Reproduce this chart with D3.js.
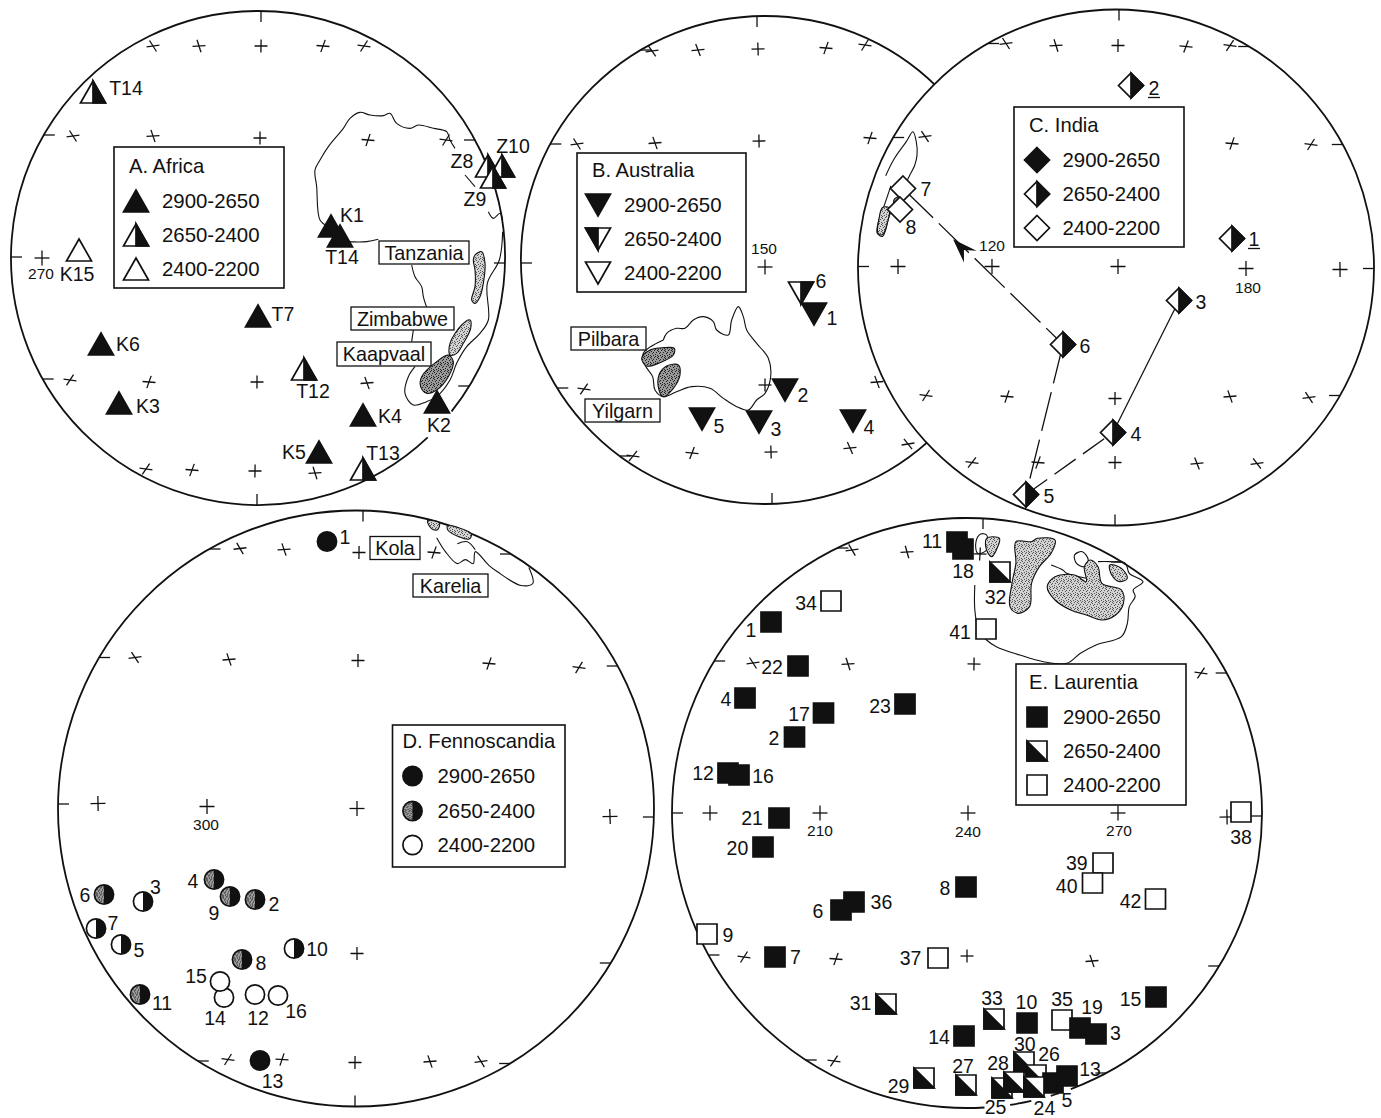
<!DOCTYPE html>
<html>
<head>
<meta charset="utf-8">
<script src="https://cdn.jsdelivr.net/npm/d3@7"></script>
<style>
  html, body { margin: 0; padding: 0; background: #fff; }
  svg { display: block; }
  text { font-family: "Liberation Sans", Arial, sans-serif; fill: #111; }
</style>
</head>
<body>
<div id="chart"></div>
<script>
// age classes shown in every legend
var ageLabels = ["2900-2650", "2650-2400", "2400-2200"];

// A. Africa
var africaIds = ["T14", "K15", "K1", "T14", "T7", "K6", "T12", "K3", "K4", "K2", "K5", "T13", "Z8", "Z10", "Z9"];
var africaX = [-165, -179, 73, 82, 0, -157, 46, -139, 105, 179, 61, 105, 230, 244, 235];
var africaY = [166, 8, 32, 22, -58, -86, -111, -145, -157, -144, -194, -211, 92, 92, 81];
var africaAge = [1, 2, 0, 0, 0, 0, 1, 0, 0, 0, 0, 1, 1, 1, 1];
var africaCrossX = [-105, -59, 3, 65, 106, -185, -105, 2, 110, 188, -216, -188, -109, -1, 109, -112, -66, -3, 57];
var africaCrossY = [212, 212, 212, 212, 212, 122, 122, 120, 118, 118, 0, -122, -124, -124, -125, -211, -212, -213, -215];

// B. Australia
var australiaIds = ["6", "1", "2", "3", "4", "5"];
var australiaX = [36, 49, 20, -6, 88, -63];
var australiaY = [-33, -54, -130, -162, -161, -159];
var australiaAge = [1, 0, 0, 0, 0, 0];
var australiaCrossX = [-113, -67, -7, 61, 100, -188, -110, -6, 105, 0, -181, 0, 112, -132, -73, 6, 85, 143];
var australiaCrossY = [209, 210, 211, 212, 215, 116, 117, 119, 122, -7, -129, -125, -122, -196, -193, -192, -188, -184];

// C. India
var indiaIds = ["1", "2", "3", "4", "5", "6", "7", "8"];
var indiaX = [116, 15, 63, -3, -90, -53, -213, -216];
var indiaY = [29, 182, -33, -165, -227, -77, 79, 58];
var indiaAge = [1, 1, 1, 1, 1, 1, 2, 2];
var indiaCrossX = [-110, -60, 2, 70, 114, -191, 116, 195, -218, -124, 2, 130, 224, -190, -109, -1, 114, 193, -144, -78, -1, 81, 141];
var indiaCrossY = [224, 222, 222, 221, 222, 131, 124, 123, 1, 1, 1, -1, -2, -128, -129, -131, -129, -130, -195, -195, -195, -196, -196];

// D. Fennoscandia
var fennoIds = ["1", "2", "3", "4", "5", "6", "7", "8", "9", "10", "11", "12", "13", "14", "15", "16"];
var fennoX = [-29, -101, -213, -142, -235, -252, -260, -114, -126, -62, -216, -101, -96, -132, -136, -78];
var fennoY = [267, -91, -93, -71, -136, -86, -120, -151, -88, -140, -186, -186, -252, -189, -173, -187];
var fennoAge = [0, 1, 1, 1, 1, 1, 1, 1, 1, 1, 1, 2, 0, 2, 2, 2];
var fennoPlainHalf = ["3", "5", "7", "10"];
var fennoCrossX = [-116, -72, 3, 78, -221, -127, 2, 133, 223, -258, -149, 1, 254, 1, -128, -74, -1, 74, 125];
var fennoCrossY = [260, 259, 256, 256, 151, 149, 148, 145, 141, 5, 2, 0, -8, -145, -251, -251, -254, -253, -253];

// E. Laurentia, listed back to front
var laurentiaIds = ["1", "2", "4", "6", "36", "7", "8", "9", "10", "11", "18", "12", "16", "14", "15", "17", "20", "21", "22", "23", "34", "35", "19", "3", "37", "38", "39", "40", "41", "42", "31", "32", "33", "27", "29", "30", "26", "25", "28", "5", "24", "13"];
var laurentiaX = [-196, -172.5, -222, -126, -113, -192, -1, -260, 60, -10, -4, -239, -228, -3, 189, -143.5, -204, -188, -169, -62, -136, 95, 113, 129, -29, 274, 136, 125.5, 19, 188.5, -81, 33, 27, -1, -43, 57, 69, 35, 47, 86, 67, 100];
var laurentiaY = [191, 76, 115, -97, -89, -144, -74, -121, -210, 271, 264, 40, 38, -223, -184, 100, -34, -5, 147, 109, 212, -207, -215, -221, -145, 1, -50, -70, 184, -86, -191, 241, -206, -272, -265, -249, -262, -275, -269, -270, -274, -263];
var laurentiaAge = [0, 0, 0, 0, 0, 0, 0, 2, 0, 0, 0, 0, 0, 0, 0, 0, 0, 0, 0, 0, 2, 2, 0, 0, 2, 2, 2, 2, 2, 2, 1, 1, 1, 1, 1, 1, 1, 1, 1, 0, 1, 0];
var laurentiaCrossX = [-115, -60, 13, -214, -119, 7, 234, -257, -147, 1, 151, 260, -223, -131, 0, 125, -133];
var laurentiaCrossY = [263, 261, 259, 150, 149, 149, 140, 0, 0, 0, 0, -4, -144, -146, -143, -148, -248];

// digitised outlines, in the units of each map
var africaCoast = [[985, 680], [960, 660], [950, 560], [945, 510], [960, 480], [985, 440], [1030, 385], [1050, 355], [1080, 337], [1110, 345], [1150, 347], [1170, 340], [1190, 370], [1230, 385], [1255, 375], [1300, 385], [1340, 395], [1350, 420], [1365, 445]];
var africaGuinea = [[1040, 725], [1100, 725], [1135, 718]];
var africaHorn = [[1465, 635], [1480, 655], [1500, 640], [1508, 660]];
var africaEast = [[1508, 695], [1498, 780], [1462, 850], [1465, 960], [1440, 1000], [1400, 1040], [1370, 1090], [1350, 1140], [1310, 1190], [1280, 1205], [1240, 1215], [1215, 1180], [1225, 1130], [1245, 1100]];
var africaInner = [[1235, 795], [1245, 830], [1265, 860], [1270, 890], [1280, 922]];
var africaInner2 = [[1240, 990], [1235, 1025]];
var africaTanzania = [[1425, 765], [1445, 755], [1455, 790], [1450, 850], [1440, 890], [1425, 910], [1415, 900], [1425, 860], [1425, 810], [1420, 780]];
var africaZimbabwe = [[1350, 1030], [1385, 975], [1410, 960], [1412, 985], [1390, 1030], [1370, 1060], [1350, 1065]];
var africaKaapvaal = [[1265, 1130], [1310, 1085], [1345, 1065], [1360, 1085], [1345, 1130], [1310, 1170], [1280, 1180], [1262, 1160]];
var z9Leader = [[1395, 525], [1425, 560]];

var australiaCoast = [[460, 1020], [470, 1000], [500, 985], [525, 985], [550, 960], [580, 950], [610, 965], [620, 990], [655, 1005], [665, 960], [685, 920], [700, 950], [710, 990], [740, 1030], [775, 1075], [782, 1130], [765, 1180], [740, 1200], [715, 1230], [680, 1220], [640, 1195], [600, 1165], [545, 1160], [500, 1175], [460, 1190], [435, 1170], [428, 1130], [405, 1095], [400, 1060], [460, 1020]];
var australiaPilbara = [[395, 1075], [420, 1050], [460, 1043], [493, 1045], [490, 1065], [450, 1088], [410, 1098]];
var australiaYilgarn = [[447, 1125], [470, 1098], [505, 1095], [510, 1125], [490, 1165], [460, 1190], [447, 1170]];

var indiaCoast = [[105, 520], [130, 470], [165, 420], [185, 390], [195, 420], [197, 460], [190, 490], [175, 520], [165, 540]];
var indiaSouth = [[120, 550], [100, 610], [85, 650], [80, 690], [95, 700], [105, 680], [115, 640], [140, 590]];
var indiaDharwar = [[95, 615], [115, 615], [110, 660], [95, 695], [82, 690], [85, 650]];
var indiaWedge = [[130, 590], [150, 580], [130, 610]];
var indiaArrow = [[303, 708], [372, 742], [335, 740], [335, 777]];

var kolaCoast = [[998, 95], [1020, 130], [1050, 160], [1070, 150], [1090, 160], [1095, 130], [1130, 165], [1150, 180], [1210, 215], [1240, 210], [1230, 170]];
var kolaLoop = [[1050, 110], [1075, 105], [1095, 125]];
var kolaBlobA = [[975, 52], [1005, 58], [1000, 75], [985, 72]];
var kolaBlobB = [[1025, 65], [1085, 85], [1080, 98], [1028, 78]];

var laurentiaCoast = [[805, 225], [805, 300], [815, 360], [835, 390], [860, 410], [920, 435], [980, 455], [1040, 460], [1075, 430], [1115, 405], [1180, 380], [1195, 340], [1200, 290], [1215, 260], [1210, 240], [1235, 215], [1200, 190], [1190, 160], [1150, 155], [1120, 155]];
var laurentiaNorth = [[808, 95], [820, 72], [835, 75], [835, 120], [812, 130]];
var laurentiaBay = [[1000, 165], [1030, 180], [1040, 190], [1090, 205]];
var laurentiaSlave = [[835, 85], [868, 85], [860, 120], [848, 140], [835, 120]];
var laurentiaChurchill = [[910, 95], [950, 95], [965, 85], [1010, 90], [1000, 130], [970, 170], [950, 220], [945, 290], [915, 310], [895, 290], [900, 220], [910, 160]];
var laurentiaSuperior = [[990, 230], [1010, 200], [1060, 195], [1090, 215], [1085, 170], [1100, 150], [1120, 170], [1130, 220], [1180, 240], [1185, 280], [1165, 315], [1130, 330], [1090, 315], [1050, 300], [1010, 270]];
var laurentiaLoop = [[1060, 135], [1080, 125], [1095, 150], [1085, 170], [1065, 160]];
var laurentiaNain = [[1150, 165], [1180, 175], [1195, 205], [1175, 215], [1155, 195]];

// ---- layout ----
var width = 1381, height = 1118;
var panels = {
  A: { cx: 258, cy: 258, r: 247, shape: "up", title: "A. Africa", box: [114, 147, 170, 141], rows: [54, 88, 122], titleY: 19, tx: 15, mx: 22, lx: 48 },
  B: { cx: 765, cy: 260, r: 244, shape: "down", title: "B. Australia", box: [577, 153, 169, 139], rows: [52, 86, 120], titleY: 17, tx: 15, mx: 21, lx: 47 },
  C: { cx: 1116, cy: 267.5, r: 258, shape: "diamond", title: "C. India", box: [1014, 107, 170, 140], rows: [53, 87, 121], titleY: 18, tx: 15, mx: 23, lx: 48.5 },
  D: { cx: 356, cy: 808.5, r: 298, shape: "circle", title: "D. Fennoscandia", box: [392.5, 725, 172.5, 142], rows: [51, 86, 120], titleY: 16, tx: 10, mx: 20, lx: 45 },
  E: { cx: 967, cy: 813, r: 295, shape: "square", title: "E. Laurentia", box: [1016, 664, 170, 141], rows: [53, 87, 121], titleY: 18, tx: 13, mx: 21, lx: 47 }
};
var ink = "#111";

// label offsets from the marker, in pixels
var africaLabelDx = [33, -2, 21, 2, 25, 27, 9, 29, 27, 2, -25, 20, -26, 11, -18];
var africaLabelDy = [-4, 24, -11, 21, -2, 0, 22, 3, 1, 23, 0, -16, -5, -20, 22];
var australiaLabelDx = [20, 18, 18, 17, 16, 17];
var australiaLabelDy = [-12, 4, 5, 7, 6, 7];
var indiaLabelDx = [22, 23, 22, 23, 23, 22, 23, 11];
var indiaLabelDy = [0, 2, 1, 1, 1, 1, 0, 17];
var fennoLabelDx = [18, 19, 12.5, -21, 18, -19, 17, 19, -16, 23, 22, 3, 12.5, -9, -24, 18];
var fennoLabelDy = [-4.5, 4, -15, 1, 5, 0, -6, 3, 16, 0, 8, 23, 20, 20, -6, 15];
var laurentiaLabelDx = [-20, -20.5, -19, -23, 27.4, 20.4, -21, 21, -0.6, -25, 0, -25, 24, -25, -25.5, -24.5, -25.6, -27, -26, -25, -25, 0, 12, 19.4, -27.4, 0, -26.2, -25.8, -26, -25, -25.4, -4.5, -2, -3, -25.4, 0.8, 13, -6.4, -16, 14, 10.4, 23];
var laurentiaLabelDy = [8, 1, 1, 1, 0, 0, 1, 1, -20.6, -1, 22, 0, 1, 1, 2, 1, 1, 0, 1, 2, 1.7, -21, -20.6, -1, 0, 25, 0, 2.7, 2.7, 1.7, -0.7, 24.7, -21.3, -19.3, 8.4, -18.4, -20.7, 19, -19.4, 17, 20.5, -7];

// edge ticks: rows run in from the left or right of the rim, cols in from top or bottom
var rimTicks = {
  A: { left: [1, 123, -121], right: [-5, 118, -128], top: [3], bottom: [-1] },
  B: { left: [-3, 116, -128, 210, -196], right: [], top: [-8], bottom: [7] },
  C: { left: [1, 130, 224], right: [123, -128, -1, 221], top: [3], bottom: [-1] },
  D: { left: [4.5, 151, 259.5, -252.5], right: [142.5, 254.5, -8.5, -154.5, -255], top: [7], bottom: [-1] },
  E: { left: [0, 152, 265, -142, -247], right: [140, 251, -3, -153, -260], top: [16], bottom: [] }
};

var svg = d3.select("#chart").append("svg")
  .attr("width", width)
  .attr("height", height);

// stipple used for the cratons, dots scattered so it reads as grain
var defs = svg.append("defs");
function addStipple(id, base, dot) {
  var p = defs.append("pattern").attr("id", id)
    .attr("width", 7).attr("height", 7)
    .attr("patternUnits", "userSpaceOnUse");
  p.append("rect").attr("width", 7).attr("height", 7).attr("fill", base);
  [[0, 1], [3, 0], [5, 2], [1, 3], [4, 4], [6, 5], [2, 5], [0, 6], [4, 6], [2, 2], [6, 0]].forEach(function (c) {
    p.append("rect").attr("x", c[0]).attr("y", c[1])
      .attr("width", 1).attr("height", 1).attr("fill", dot);
  });
}
addStipple("stipple", "#d2d2d2", "#555");
addStipple("stippleDark", "#9a9a9a", "#222");

function polygon(g, pts, fill) {
  return g.append("path")
    .attr("d", d3.line()(pts) + "Z")
    .attr("fill", fill)
    .attr("stroke", ink)
    .attr("stroke-width", 1.7)
    .attr("stroke-linejoin", "miter");
}

// one marker centred on the origin of g; age picks solid, half or open
function drawMarker(g, shape, age, opt) {
  opt = opt || {};
  var fullFill = age === 0 ? ink : "#fff";
  if (shape === "up" || shape === "down") {
    var w = 25, h = 22, s = shape === "up" ? 1 : -1;
    var top = [0, -s * h / 2], r = [w / 2, s * h / 2], l = [-w / 2, s * h / 2];
    polygon(g, [top, r, l], fullFill);
    if (age === 1) {
      var halfSide = opt.flip ? l : r;
      polygon(g, [top, halfSide, [0, s * h / 2]], ink);
    }
  } else if (shape === "diamond") {
    var d = 12.5;
    polygon(g, [[0, -d], [d, 0], [0, d], [-d, 0]], fullFill);
    if (age === 1) polygon(g, [[0, -d], [d, 0], [0, d]], ink);
  } else if (shape === "circle") {
    var rad = 9.6;
    g.append("circle").attr("r", rad)
      .attr("fill", age === 1 && !opt.plain ? "url(#stippleDark)" : fullFill)
      .attr("stroke", ink).attr("stroke-width", 1.7);
    if (age === 1) {
      g.append("path")
        .attr("d", d3.arc().innerRadius(0).outerRadius(rad).startAngle(0).endAngle(Math.PI)())
        .attr("fill", ink);
    }
  } else {
    var a = 10;
    polygon(g, [[-a, -a], [a, -a], [a, a], [-a, a]], fullFill);
    if (age === 1) polygon(g, [[-a, -a], [a, a], [-a, a]], ink);
  }
}

function addLabel(g, x, y, txt, size) {
  return g.append("text")
    .attr("x", x).attr("y", y)
    .attr("dy", "0.36em")
    .attr("text-anchor", "middle")
    .attr("font-size", size)
    .text(txt);
}

// ---- panel frame: white disc, rim, graticule ----
function drawFrame(key, crossX, crossY, gaps) {
  var p = panels[key];
  var g = svg.append("g");
  var x = d3.scaleLinear().domain([-p.r, p.r]).range([p.cx - p.r, p.cx + p.r]);
  var y = d3.scaleLinear().domain([-p.r, p.r]).range([p.cy + p.r, p.cy - p.r]);

  g.append("circle").attr("cx", p.cx).attr("cy", p.cy).attr("r", p.r).attr("fill", "#fff");

  // rim, with the few breaks the original has around labels
  var rad = Math.PI / 180;
  var stops = [0].concat(gaps.reduce(function (acc, v) { return acc.concat(v); }, [])).concat([360]);
  for (var i = 0; i < stops.length; i += 2) {
    g.append("path")
      .attr("transform", "translate(" + p.cx + "," + p.cy + ")")
      .attr("d", d3.arc().innerRadius(p.r).outerRadius(p.r)
        .startAngle(stops[i] * rad).endAngle(stops[i + 1] * rad)())
      .attr("fill", "none").attr("stroke", ink).attr("stroke-width", 1.8);
  }

  // rim ticks
  var t = rimTicks[key], tickLen = 11;
  function edgeLine(x1, y1, x2, y2) {
    g.append("line")
      .attr("x1", x(x1)).attr("y1", y(y1))
      .attr("x2", x(x2)).attr("y2", y(y2))
      .attr("stroke", ink).attr("stroke-width", 1.3);
  }
  t.left.forEach(function (v) {
    var e = Math.sqrt(p.r * p.r - v * v);
    edgeLine(-e, v, -e + tickLen, v);
  });
  t.right.forEach(function (v) {
    var e = Math.sqrt(p.r * p.r - v * v);
    edgeLine(e, v, e - tickLen, v);
  });
  t.top.forEach(function (v) { edgeLine(v, p.r, v, p.r - tickLen); });
  t.bottom.forEach(function (v) { edgeLine(v, -p.r, v, -p.r + tickLen); });

  // graticule crosses: meridians lean toward the rim, parallels stay nearly flat
  crossX.forEach(function (cx, i) {
    var cy = crossY[i];
    var tilt = 80 * cx * cy / (p.r * p.r);
    var nearMiddle = Math.abs(cy) < 12;
    var arm = nearMiddle ? 7.5 : 6.5;
    var c = g.append("g")
      .attr("transform", "translate(" + x(cx) + "," + y(cy) + ")")
      .attr("stroke", ink).attr("stroke-width", 1.3);
    c.append("line").attr("x1", -arm).attr("x2", arm)
      .attr("transform", "rotate(" + tilt * 0.25 + ")");
    c.append("line").attr("y1", -arm).attr("y2", arm)
      .attr("transform", "rotate(" + tilt * 1.1 + ")");
  });

  return { g: g, x: x, y: y };
}

// ---- outlines: each map has its own digitising scale ----
function mapLayer(g, x0, y0, kx, ky) {
  var mx = d3.scaleLinear().domain([0, 1000]).range([x0, x0 + 1000 / kx]);
  var my = d3.scaleLinear().domain([0, 1000]).range([y0, y0 + 1000 / ky]);
  var line = d3.line().x(function (d) { return mx(d[0]); }).y(function (d) { return my(d[1]); });
  return {
    outline: function (pts) {
      g.append("path").attr("d", line.curve(d3.curveCatmullRom)(pts))
        .attr("fill", "none").attr("stroke", ink).attr("stroke-width", 1.1);
    },
    straight: function (pts) {
      g.append("path").attr("d", line.curve(d3.curveLinear)(pts))
        .attr("fill", "none").attr("stroke", ink).attr("stroke-width", 1.1);
    },
    blob: function (pts, fill) {
      g.append("path").attr("d", line.curve(d3.curveCatmullRomClosed)(pts))
        .attr("fill", fill).attr("stroke", ink).attr("stroke-width", 1.1);
    },
    solid: function (pts) {
      g.append("path").attr("d", line.curve(d3.curveLinearClosed)(pts)).attr("fill", ink);
    }
  };
}

function cratonBox(g, b, txt) {
  g.append("rect").attr("x", b[0]).attr("y", b[1]).attr("width", b[2]).attr("height", b[3])
    .attr("fill", "#fff").attr("stroke", ink).attr("stroke-width", 1.3);
  addLabel(g, b[0] + b[2] / 2, b[1] + b[3] / 2, txt, 19.8);
}

function drawLegend(key) {
  var p = panels[key], b = p.box;
  var g = svg.append("g").attr("transform", "translate(" + b[0] + "," + b[1] + ")");
  g.append("rect").attr("width", b[2]).attr("height", b[3])
    .attr("fill", "#fff").attr("stroke", ink).attr("stroke-width", 1.6);
  g.append("text").attr("x", p.tx).attr("y", p.titleY).attr("dy", "0.36em")
    .attr("font-size", 20.2).text(p.title);
  ageLabels.forEach(function (lab, i) {
    var m = g.append("g").attr("transform", "translate(" + p.mx + "," + p.rows[i] + ")");
    drawMarker(m, p.shape, i, { flip: key === "B" });
    g.append("text").attr("x", p.lx).attr("y", p.rows[i]).attr("dy", "0.36em")
      .attr("font-size", 20.4).text(lab);
  });
}

function drawMarkers(frame, key, ids, xs, ys, ages, ldx, ldy, optFor) {
  var p = panels[key];
  ids.forEach(function (id, i) {
    var m = frame.g.append("g")
      .attr("transform", "translate(" + frame.x(xs[i]) + "," + frame.y(ys[i]) + ")");
    drawMarker(m, p.shape, ages[i], optFor ? optFor(id) : null);
  });
  ids.forEach(function (id, i) {
    addLabel(frame.g, frame.x(xs[i]) + ldx[i], frame.y(ys[i]) + ldy[i], id, 19.5);
  });
}

// ---- A ----
var fa = drawFrame("A", africaCrossX, africaCrossY, [[128.4, 136.6]]);
var ma = mapLayer(fa.g, 0, 0, 3, 3);
[africaCoast, africaGuinea, africaHorn, africaEast, africaInner, africaInner2].forEach(ma.outline);
ma.straight(z9Leader);
ma.blob(africaTanzania, "url(#stipple)");
ma.blob(africaZimbabwe, "url(#stipple)");
ma.blob(africaKaapvaal, "url(#stippleDark)");
cratonBox(fa.g, [379, 241, 90, 23], "Tanzania");
cratonBox(fa.g, [351, 307, 103, 23], "Zimbabwe");
cratonBox(fa.g, [337, 342, 94, 24], "Kaapvaal");
drawLegend("A");
drawMarkers(fa, "A", africaIds, africaX, africaY, africaAge, africaLabelDx, africaLabelDy);
addLabel(fa.g, fa.x(-217), fa.y(-15), "270", 15.5);

// ---- B ----
var fb = drawFrame("B", australiaCrossX, australiaCrossY, []);
var mb = mapLayer(fb.g, 510, 0, 3, 3);
mb.outline(australiaCoast);
mb.blob(australiaPilbara, "url(#stippleDark)");
mb.blob(australiaYilgarn, "url(#stippleDark)");
cratonBox(fb.g, [571, 327, 75, 23], "Pilbara");
cratonBox(fb.g, [585, 399, 75, 23], "Yilgarn");
drawLegend("B");
drawMarkers(fb, "B", australiaIds, australiaX, australiaY, australiaAge, australiaLabelDx, australiaLabelDy);
addLabel(fb.g, fb.x(-1), fb.y(12), "150", 15.5);

// ---- C ----
var fc = drawFrame("C", indiaCrossX, indiaCrossY, []);
var mc = mapLayer(fc.g, 850, 0, 2.94, 2.96);
mc.outline(indiaCoast);
mc.outline(indiaSouth);
mc.blob(indiaDharwar, "url(#stipple)");
mc.blob(indiaWedge, "url(#stippleDark)");

// apparent polar wander path joins markers 7-6-5-4-3
function indiaPoint(id) {
  var i = indiaIds.indexOf(id);
  return [fc.x(indiaX[i]), fc.y(indiaY[i])];
}
function pathSeg(a, b, dash) {
  fc.g.append("path").attr("d", d3.line()([indiaPoint(a), indiaPoint(b)]))
    .attr("stroke", ink).attr("stroke-width", 1.3).attr("fill", "none")
    .attr("stroke-dasharray", dash);
}
pathSeg("7", "6", "42,8");
pathSeg("6", "5", "40,9");
pathSeg("5", "4", "26,9");
pathSeg("3", "4", null);
mc.solid(indiaArrow);
drawLegend("C");
drawMarkers(fc, "C", indiaIds, indiaX, indiaY, indiaAge, indiaLabelDx, indiaLabelDy);
["1", "2"].forEach(function (id) {
  var i = indiaIds.indexOf(id), lx = fc.x(indiaX[i]) + indiaLabelDx[i], ly = fc.y(indiaY[i]) + indiaLabelDy[i];
  fc.g.append("line").attr("x1", lx - 6).attr("x2", lx + 6).attr("y1", ly + 10).attr("y2", ly + 10)
    .attr("stroke", ink).attr("stroke-width", 1.3);
});
addLabel(fc.g, fc.x(-124), fc.y(22), "120", 15.5);
addLabel(fc.g, fc.x(132), fc.y(-20), "180", 15.5);

// ---- D ----
var fd = drawFrame("D", fennoCrossX, fennoCrossY, []);
var md = mapLayer(fd.g, 40, 500, 2.516, 2.516);
md.outline(kolaCoast);
md.outline(kolaLoop);
md.blob(kolaBlobA, "url(#stipple)");
md.blob(kolaBlobB, "url(#stipple)");
cratonBox(fd.g, [370, 536.5, 50, 23], "Kola");
cratonBox(fd.g, [413, 574, 75, 23], "Karelia");
drawLegend("D");
drawMarkers(fd, "D", fennoIds, fennoX, fennoY, fennoAge, fennoLabelDx, fennoLabelDy, function (id) {
  return { plain: fennoPlainHalf.indexOf(id) >= 0 };
});
addLabel(fd.g, fd.x(-150), fd.y(-16), "300", 15.5);

// ---- E ----
var fe = drawFrame("E", laurentiaCrossX, laurentiaCrossY, [[159.4, 161.8], [163.5, 167.4], [171.6, 176.6]]);
var me = mapLayer(fe.g, 660, 510, 2.557, 3);
[laurentiaCoast, laurentiaBay].forEach(me.outline);
me.blob(laurentiaNorth, "none");
me.blob(laurentiaLoop, "#fff");
me.blob(laurentiaSlave, "url(#stipple)");
me.blob(laurentiaChurchill, "url(#stipple)");
me.blob(laurentiaSuperior, "url(#stipple)");
me.blob(laurentiaNain, "url(#stipple)");
drawLegend("E");
drawMarkers(fe, "E", laurentiaIds, laurentiaX, laurentiaY, laurentiaAge, laurentiaLabelDx, laurentiaLabelDy);
addLabel(fe.g, fe.x(-147), fe.y(-17), "210", 15.5);
addLabel(fe.g, fe.x(1), fe.y(-18), "240", 15.5);
addLabel(fe.g, fe.x(152), fe.y(-17), "270", 15.5);
</script>
</body>
</html>
